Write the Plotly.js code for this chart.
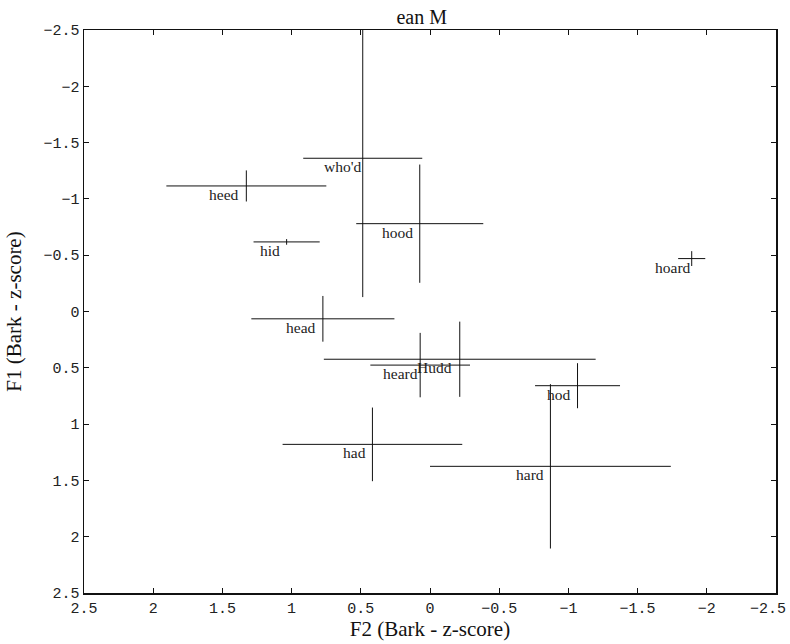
<!DOCTYPE html>
<html>
<head>
<meta charset="utf-8">
<script src="https://cdn.plot.ly/plotly-3.0.1.min.js"></script>
<style>html,body{margin:0;padding:0;background:#fff;}#chart{width:790px;height:644px;}</style>
</head>
<body>
<div id="chart"></div>
<script>
// Vowel categories
var vowels = ["heed", "hid", "head", "had", "hard", "hod", "hoard", "hood", "who'd", "Hudd", "heard"];
// F2 (x) mean and spread
var f2Mean = [1.327, 1.036, 0.774, 0.416, -0.870, -1.066, -1.891, 0.074, 0.486, -0.215, 0.071];
var f2SD   = [0.578, 0.239, 0.517, 0.649, 0.870, 0.307, 0.098, 0.459, 0.430, 0.982, 0.360];
// F1 (y) mean and spread
var f1Mean = [-1.115, -0.618, 0.065, 1.180, 1.375, 0.659, -0.470, -0.780, -1.361, 0.424, 0.476];
var f1SD   = [0.138, 0.025, 0.203, 0.327, 0.730, 0.200, 0.066, 0.525, 1.233, 0.334, 0.286];
// Label anchor positions (right edge of label, data coords)
var labelF2 = [1.374, 1.077, 0.815, 0.458, -0.832, -1.025, -1.892, 0.114, 0.494, -0.164, 0.077];
var labelF1 = f1Mean;
// Tick values / labels
var tickVals = [2.5, 2, 1.5, 1, 0.5, 0, -0.5, -1, -1.5, -2, -2.5];
var xTickText = ["2.5", "2", "1.5", "1", "0.5", "0", "\u22120.5", "\u22121", "\u22121.5", "\u22122", "\u22122.5"];
var yTickVals = [-2.5, -2, -1.5, -1, -0.5, 0, 0.5, 1, 1.5, 2, 2.5];
var yTickText = ["\u22122.5", "\u22122", "\u22121.5", "\u22121", "\u22120.5", "0", "0.5", "1", "1.5", "2", "2.5"];

var lx = [], ly = [];
for (var i = 0; i < vowels.length; i++) {
  lx.push(f2Mean[i] - f2SD[i], f2Mean[i] + f2SD[i], null);
  ly.push(f1Mean[i], f1Mean[i], null);
  lx.push(f2Mean[i], f2Mean[i], null);
  ly.push(f1Mean[i] - f1SD[i], f1Mean[i] + f1SD[i], null);
}

var traces = [{
  type: "scatter", mode: "lines", x: lx, y: ly,
  line: {color: "#111", width: 1}, hoverinfo: "skip", showlegend: false
}];

var annotations = vowels.map(function (v, i) {
  return {
    x: labelF2[i], y: labelF1[i], xref: "x", yref: "y", text: v,
    showarrow: false, xanchor: "right", yanchor: "top", borderpad: 0, yshift: 1,
    font: {family: "Liberation Serif, serif", size: 15.5, color: "#222"}
  };
});

var tickFont = {family: "Liberation Mono, monospace", size: 15, color: "#222"};

// the last x tick label is drawn as an annotation, pulled inside the picture edge
var last = xTickText.length - 1;
var xTickShown = xTickText.map(function (t, i) { return i === last ? "" : t; });
annotations.push({
  x: tickVals[last], y: 0, xref: "x", yref: "paper", text: xTickText[last],
  showarrow: false, xanchor: "right", yanchor: "middle", borderpad: 0,
  xshift: 11, yshift: -16, font: tickFont
});

var layout = {
  width: 790, height: 644,
  margin: {l: 84, r: 14, t: 30, b: 51, pad: 0},
  paper_bgcolor: "#fff", plot_bgcolor: "#fff",
  showlegend: false,
  title: {text: "ean M", x: 0.488, xref: "paper", xanchor: "center", y: 0.973, yanchor: "middle",
          font: {family: "Liberation Serif, serif", size: 20, color: "#111"}},
  xaxis: {
    range: [2.5, -2.5], tickmode: "array", tickvals: tickVals, ticktext: xTickShown,
    ticks: "inside", ticklen: 5, tickcolor: "#111", tickwidth: 1,
    showline: true, linecolor: "#111", linewidth: 1.5, mirror: "ticks",
    showgrid: false, zeroline: false, tickfont: tickFont, ticklabeloverflow: "allow",
    title: {text: "F2 (Bark - z-score)", standoff: 5, font: {family: "Liberation Serif, serif", size: 21, color: "#111"}}
  },
  yaxis: {
    range: [2.5, -2.5], tickmode: "array", tickvals: yTickVals, ticktext: yTickText,
    ticks: "inside", ticklen: 5, tickcolor: "#111", tickwidth: 1,
    showline: true, linecolor: "#111", linewidth: 1.5, mirror: "ticks",
    showgrid: false, zeroline: false, tickfont: tickFont, ticklabeloverflow: "allow",
    title: {text: "F1 (Bark - z-score)", standoff: 16, font: {family: "Liberation Serif, serif", size: 21, color: "#111"}}
  },
  annotations: annotations
};

Plotly.newPlot("chart", traces, layout, {displayModeBar: false, staticPlot: true});
</script>
</body>
</html>
